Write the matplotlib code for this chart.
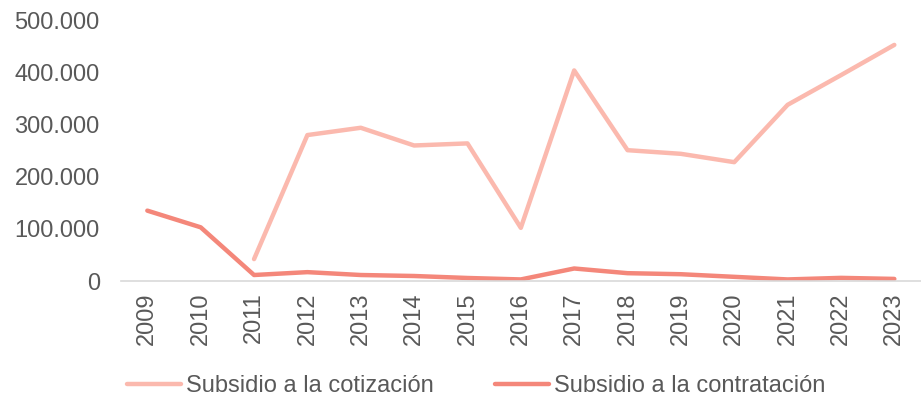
import numpy as np
import matplotlib.pyplot as plt

# data (miles de personas)
years = [str(y) for y in range(2009, 2024)]
cotizacion = [np.nan, np.nan, 42000, 280000, 294000, 260000, 264000, 102000,
              404000, 251000, 244000, 228000, 338000, 395000, 453000]
contratacion = [135000, 103000, 11500, 17000, 11500, 9600, 5800, 3000,
                24000, 15000, 13000, 8000, 3000, 6000, 4000]

labels = ['Subsidio a la cotización', 'Subsidio a la contratación']
colors = ['#FBB9AE', '#F4877A']
text_color = '#595959'

plt.rcParams['font.family'] = ['Liberation Sans', 'DejaVu Sans']

fig = plt.figure(figsize=(9.21, 4.0), dpi=100)
ax = fig.add_axes([0.131, 0.2975, 0.869, 0.6515])

x = np.arange(len(years))
ax.plot(x, cotizacion, color=colors[0], lw=3.2, solid_capstyle='round',
        solid_joinstyle='round', label=labels[0])
ax.plot(x, contratacion, color=colors[1], lw=3.2, solid_capstyle='round',
        solid_joinstyle='round', label=labels[1])

ax.set_xlim(-0.5, len(years) - 0.5)
ax.set_ylim(0, 500000)
ax.set_yticks(np.arange(0, 500001, 100000))
ax.set_yticklabels(['0' if v == 0 else f'{v:,.0f}'.replace(',', '.')
                    for v in np.arange(0, 500001, 100000)])
ax.set_xticks(x)
ax.set_xticklabels(years, rotation=90)

for s in ['top', 'right', 'left']:
    ax.spines[s].set_visible(False)
ax.spines['bottom'].set_color('#D9D9D9')
ax.spines['bottom'].set_linewidth(1.2)
ax.tick_params(axis='both', length=0, colors=text_color)
ax.tick_params(axis='y', labelsize=17, pad=15)
ax.tick_params(axis='x', labelsize=17, pad=8)

fig.legend(loc='center', bbox_to_anchor=(0.517, 0.035), ncol=2, frameon=False,
           fontsize=17, labelcolor=text_color, handlelength=2.3,
           handletextpad=0.2, columnspacing=2.6)

fig.savefig('out.png', dpi=100)
